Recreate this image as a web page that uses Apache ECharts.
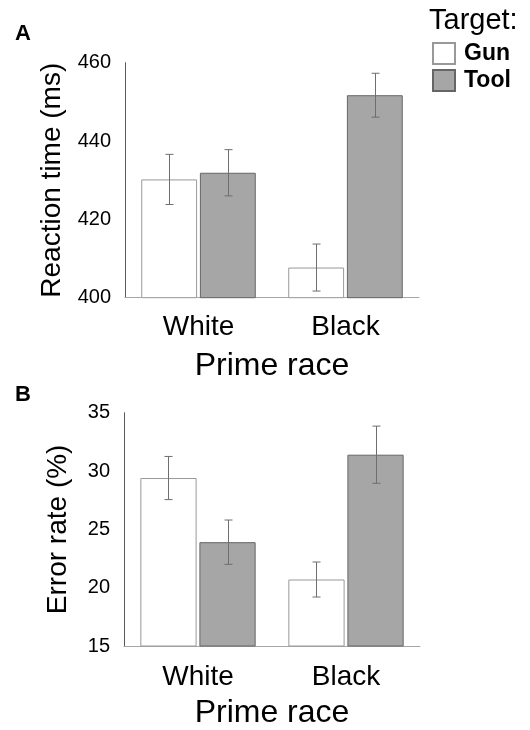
<!DOCTYPE html>
<html>
<head>
<meta charset="utf-8">
<script src="https://cdn.jsdelivr.net/npm/echarts@6/dist/echarts.min.js"></script>
<style>
html,body{margin:0;padding:0;background:#fff;}
#c{width:530px;height:730px;}
</style>
</head>
<body>
<div id="c"></div>
<script>
var categories = ['White', 'Black'];
var seriesNames = ['Gun', 'Tool'];
// Panel A: reaction time (ms)
var rtGun = [430.2, 407.7];
var rtTool = [431.9, 451.7];
var rtGunErr = [6.4, 6.0];
var rtToolErr = [5.9, 5.6];
var rtTicks = { min: 400, max: 460, interval: 20 };
// Panel B: error rate (%)
var erGun = [29.4, 20.7];
var erTool = [23.9, 31.4];
var erGunErr = [1.85, 1.5];
var erToolErr = [1.9, 2.45];
var erTicks = { min: 15, max: 35, interval: 5 };

var FONT = 'Liberation Sans, Arial, sans-serif';
var BAR_W = 0.38, BAR_GAP = 0.05;

function errRender(side) {
  return function (params, api) {
    var x = api.value(0), v = api.value(1), e = api.value(2);
    var band = api.size([1, 0])[0];
    var bw = band * BAR_W;
    var off = (bw + bw * BAR_GAP) / 2 * side;
    var t = api.coord([x, v + e]);
    var b = api.coord([x, v - e]);
    var cx = Math.round(t[0] + off) + 0.5;
    var st = { stroke: '#6e6e6e', lineWidth: 1 };
    return {
      type: 'group',
      children: [
        { type: 'line', shape: { x1: cx, y1: t[1], x2: cx, y2: b[1] }, style: st },
        { type: 'line', shape: { x1: cx - 4, y1: t[1], x2: cx + 4, y2: t[1] }, style: st },
        { type: 'line', shape: { x1: cx - 4, y1: b[1], x2: cx + 4, y2: b[1] }, style: st }
      ]
    };
  };
}

function errData(vals, errs) {
  return vals.map(function (v, i) { return [i, v, errs[i]]; });
}

function xAx(gi, labelMargin, nameGap) {
  return {
    type: 'category', gridIndex: gi, data: categories,
    axisLine: { lineStyle: { color: '#a6a6a6', width: 1 } },
    axisTick: { show: false },
    axisLabel: { fontSize: 28, color: '#000', fontFamily: FONT, margin: labelMargin },
    name: 'Prime race', nameLocation: 'middle', nameGap: nameGap,
    nameTextStyle: { fontSize: 32, color: '#000', fontFamily: FONT }
  };
}

function yAx(gi, ticks, name, nameGap) {
  return {
    type: 'value', gridIndex: gi, min: ticks.min, max: ticks.max, interval: ticks.interval,
    axisLine: { show: true, lineStyle: { color: '#595959', width: 1 } },
    axisTick: { show: false },
    splitLine: { show: false },
    axisLabel: { fontSize: 20, color: '#000', fontFamily: FONT, margin: 14 },
    name: name, nameLocation: 'middle', nameGap: nameGap,
    nameTextStyle: { fontSize: 28, color: '#000', fontFamily: FONT }
  };
}

var gunStyle = { color: '#ffffff', borderColor: '#999999', borderWidth: 1 };
var toolStyle = { color: '#a6a6a6', borderColor: '#666666', borderWidth: 1 };

function bars(gi, gun, tool) {
  return [
    { name: seriesNames[0], type: 'bar', xAxisIndex: gi, yAxisIndex: gi, data: gun,
      barWidth: (BAR_W * 100) + '%', barGap: (BAR_GAP * 100) + '%', itemStyle: gunStyle, silent: true },
    { name: seriesNames[1], type: 'bar', xAxisIndex: gi, yAxisIndex: gi, data: tool,
      barWidth: (BAR_W * 100) + '%', barGap: (BAR_GAP * 100) + '%', itemStyle: toolStyle, silent: true }
  ];
}

function errs(gi, gun, gunE, tool, toolE) {
  return [
    { type: 'custom', xAxisIndex: gi, yAxisIndex: gi, renderItem: errRender(-1), data: errData(gun, gunE), z: 5, silent: true },
    { type: 'custom', xAxisIndex: gi, yAxisIndex: gi, renderItem: errRender(1), data: errData(tool, toolE), z: 5, silent: true }
  ];
}

var chart = echarts.init(document.getElementById('c'), null, { renderer: 'canvas' });
chart.setOption({
  animation: false,
  backgroundColor: '#ffffff',
  title: [
    { text: 'A', left: 15, top: 23, padding: 0, textStyle: { fontSize: 22, fontWeight: 'bold', color: '#000', fontFamily: FONT } },
    { text: 'B', left: 15, top: 384, padding: 0, textStyle: { fontSize: 22, fontWeight: 'bold', color: '#000', fontFamily: FONT } },
    { text: 'Target:', left: 429, top: 6, padding: 0, textStyle: { fontSize: 29, fontWeight: 'normal', color: '#000', fontFamily: FONT } }
  ],
  legend: {
    data: seriesNames, orient: 'vertical', left: 432, top: 42, padding: 0,
    itemWidth: 22, itemHeight: 21, itemGap: 4, icon: 'rect',
    textStyle: { fontSize: 23, fontWeight: 'bold', color: '#000', fontFamily: FONT, padding: [0, 0, 0, 4] },
    selectedMode: false
  },
  grid: [
    { left: 125, right: 111, top: 62.7, height: 235 },
    { left: 124, right: 110, top: 412.7, height: 234.6 }
  ],
  xAxis: [xAx(0, 16, 52), xAx(1, 17, 51)],
  yAxis: [yAx(0, rtTicks, 'Reaction time (ms)', 58), yAx(1, erTicks, 'Error rate (%)', 52)],
  series: [].concat(
    bars(0, rtGun, rtTool),
    errs(0, rtGun, rtGunErr, rtTool, rtToolErr),
    bars(1, erGun, erTool),
    errs(1, erGun, erGunErr, erTool, erToolErr)
  )
});
</script>
</body>
</html>
